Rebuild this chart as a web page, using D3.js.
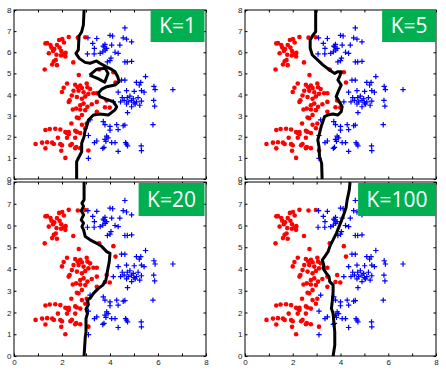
<!DOCTYPE html>
<html>
<head>
<meta charset="utf-8">
<script src="https://cdn.jsdelivr.net/npm/d3@7"></script>
<style>
  body { margin: 0; background: #fff; }
  svg { display: block; }
  .tick text { font-family: "Liberation Sans", Arial, sans-serif; font-size: 8px; fill: #222; }
  .tick line { stroke: #000; }
</style>
</head>
<body>
<div id="chart"></div>
<script>
// class 1 (red dots)
const redPoints = [
  [1.31, 6.42], [1.38, 6.43], [1.52, 6.34], [1.56, 6.22], [1.63, 6.06], [1.68, 6.15],
  [1.79, 6.34], [1.88, 6.58], [2.01, 6.62], [2.08, 6.46], [2.28, 6.72], [1.90, 6.22],
  [1.97, 6.06], [2.07, 5.91], [2.15, 5.97], [2.14, 5.80], [1.96, 5.85], [1.77, 5.88],
  [1.66, 5.57], [1.74, 5.63], [1.59, 5.42], [1.79, 5.39], [1.28, 5.18], [2.47, 5.52],
  [2.66, 6.69], [2.97, 6.71], [1.45, 5.95], [2.70, 4.92], [3.55, 5.18], [4.14, 5.05],
  [4.23, 4.57],
  [2.21, 4.52], [2.07, 4.32], [2.00, 4.12], [2.55, 4.46], [2.65, 4.34], [2.76, 4.42],
  [2.69, 4.18], [2.83, 4.31], [3.03, 4.52], [3.06, 4.34], [3.17, 4.26], [2.90, 4.11],
  [2.48, 4.18], [2.41, 3.95], [2.32, 3.72], [2.28, 3.65], [2.62, 3.88], [2.83, 3.80],
  [2.97, 3.91], [3.10, 4.03], [3.31, 4.06], [3.45, 4.06], [2.90, 3.57], [2.76, 3.49],
  [2.59, 3.34], [2.45, 3.29], [2.76, 3.29], [2.97, 3.26], [3.06, 3.42], [3.24, 3.54],
  [3.45, 3.65], [3.86, 3.72], [3.79, 3.40], [3.45, 3.18], [2.83, 3.03], [2.69, 2.88],
  [2.62, 2.91], [3.99, 3.38],
  [2.39, 2.63], [1.93, 2.34], [1.31, 2.32], [1.49, 2.37], [1.72, 2.38], [2.14, 2.22],
  [2.21, 2.18], [2.28, 2.22], [2.28, 2.12], [2.55, 2.28], [2.62, 2.23], [2.83, 2.57],
  [3.03, 2.63], [2.97, 2.40], [2.76, 2.18], [1.83, 1.95], [2.21, 1.95], [2.55, 1.95],
  [1.38, 1.74], [1.59, 1.72], [1.66, 1.66], [1.93, 1.65], [2.00, 1.60], [2.35, 1.60],
  [2.41, 1.66], [0.90, 1.66], [1.17, 1.72], [2.59, 1.51], [2.76, 1.46], [2.55, 1.46],
  [1.31, 1.45], [1.97, 1.34], [2.14, 1.00], [3.10, 1.35]
];

// class 2 (blue crosses)
const bluePoints = [
  [3.08, 6.68], [3.45, 6.65], [3.28, 6.42], [3.35, 6.18], [3.06, 5.92], [3.34, 5.92],
  [3.59, 5.95], [3.72, 6.29], [3.79, 6.37], [3.86, 6.18], [4.00, 6.80], [4.11, 6.77],
  [4.07, 6.34], [4.21, 6.00], [4.34, 5.95], [3.89, 5.54], [4.00, 5.60], [4.04, 5.72],
  [4.55, 6.68], [4.69, 6.62], [4.62, 7.15], [4.90, 6.49], [4.41, 6.34], [4.62, 5.54],
  [4.72, 5.54], [4.90, 5.57], [3.75, 6.25], [3.80, 6.10], [3.70, 6.02],
  [4.48, 4.68], [4.62, 4.68], [5.48, 4.85], [5.10, 4.57], [5.28, 4.57], [5.22, 4.45],
  [5.01, 4.15], [5.31, 4.18], [5.42, 4.11], [4.34, 4.11], [4.69, 4.18], [5.83, 4.38],
  [5.88, 4.23], [6.62, 4.23], [4.51, 3.85], [4.72, 3.85], [4.83, 3.92], [4.90, 3.72],
  [4.97, 3.80], [5.10, 3.65], [5.17, 3.85], [5.31, 3.69], [4.76, 3.65], [4.59, 3.72],
  [4.90, 3.42], [4.69, 3.55], [4.44, 3.65], [4.14, 3.65], [4.73, 3.14], [5.24, 3.49],
  [5.82, 3.72], [5.86, 3.45], [5.79, 2.57], [5.00, 3.60], [5.05, 3.55],
  [3.17, 2.80], [3.72, 2.72], [3.79, 2.57], [4.00, 2.49], [4.00, 2.31], [4.28, 2.57],
  [4.34, 2.34], [4.55, 2.52], [4.62, 2.55], [3.10, 2.06], [3.86, 2.03], [3.92, 1.95],
  [3.79, 1.88], [3.83, 1.78], [4.07, 1.72], [4.21, 1.72], [3.35, 1.72], [3.45, 1.80],
  [3.70, 1.45], [3.75, 1.50], [4.65, 1.72], [4.73, 1.57], [4.69, 1.65], [5.30, 1.57],
  [5.31, 1.34], [4.34, 1.31], [3.10, 0.98]
];

// decision boundaries
const boundaryK1 = [
  [2.92, 8.0], [2.89, 7.29], [2.82, 6.97], [2.71, 6.77], [2.68, 6.11], [2.58, 5.95],
  [2.72, 5.71], [2.96, 5.52], [3.17, 5.48], [3.44, 5.59], [3.58, 5.48], [3.83, 5.32],
  [4.07, 5.19], [4.21, 5.08], [4.32, 4.84], [4.38, 4.61], [4.21, 4.45], [3.86, 4.37],
  [3.65, 4.24], [3.51, 4.06], [3.58, 3.90], [3.86, 3.77], [4.14, 3.66], [4.28, 3.42],
  [4.21, 3.27], [3.93, 3.03], [3.58, 3.08], [3.31, 3.03], [3.10, 2.79], [3.03, 2.51],
  [2.96, 2.29], [2.92, 2.00], [2.82, 1.69], [2.82, 1.29], [2.68, 0.98], [2.61, 0.82],
  [2.61, 0.0]
];
const loopK1 = [
  [3.15, 4.92], [3.45, 5.20], [3.80, 5.24], [3.92, 5.00], [3.78, 4.58], [3.50, 4.75],
  [3.15, 4.92]
];
const boundaryK5 = [
  [2.96, 8.0], [2.96, 6.97], [2.85, 6.82], [2.73, 6.58], [2.73, 6.19], [2.82, 5.87],
  [3.05, 5.63], [3.26, 5.40], [3.54, 5.16], [3.75, 5.00], [3.89, 5.08], [4.03, 5.08],
  [3.96, 4.84], [3.89, 4.69], [4.03, 4.45], [3.93, 4.21], [3.82, 3.90], [3.99, 3.58],
  [4.07, 3.42], [4.03, 3.19], [3.89, 3.03], [3.68, 3.08], [3.47, 3.03], [3.33, 2.95],
  [3.26, 2.71], [3.19, 2.48], [3.12, 2.16], [3.05, 1.85], [3.10, 1.53], [3.12, 1.06],
  [3.21, 0.74], [3.23, 0.0]
];
const boundaryK20 = [
  [2.92, 8.0], [2.92, 7.18], [2.83, 7.03], [2.90, 6.88], [2.80, 6.68], [2.90, 6.49],
  [2.80, 6.26], [2.90, 6.11], [2.83, 5.95], [2.90, 5.80], [2.97, 5.49], [3.17, 5.34],
  [3.45, 5.18], [3.66, 5.03], [3.86, 4.80], [4.00, 4.72], [3.97, 4.34], [3.89, 3.88],
  [3.83, 3.49], [3.70, 3.26], [3.52, 3.11], [3.31, 2.88], [3.17, 2.65], [3.06, 2.57],
  [3.10, 2.37], [3.00, 2.15], [3.06, 1.95], [3.00, 1.72], [3.00, 1.11], [2.97, 0.88],
  [2.92, 0.0]
];
const boundaryK100 = [
  [4.40, 8.0], [4.37, 7.65], [4.28, 7.18], [4.23, 6.80], [4.11, 6.42], [3.97, 6.03],
  [3.83, 5.65], [3.69, 5.34], [3.58, 5.11], [3.48, 4.80], [3.34, 4.57], [3.24, 4.42],
  [3.30, 4.18], [3.27, 4.03], [3.41, 3.80], [3.52, 3.65], [3.55, 3.42], [3.69, 3.26],
  [3.69, 2.95], [3.66, 2.57], [3.62, 2.18], [3.69, 1.95], [3.72, 1.57], [3.76, 1.11],
  [3.76, 0.49], [3.69, 0.0]
];

const kLabels = ["K=1", "K=5", "K=20", "K=100"];
const axisTicks = [0, 1, 2, 3, 4, 5, 6, 7, 8];
const xTickLabels = [0, 2, 4, 6, 8];

const width = 446;
const height = 370;

const panels = [
  { label: kLabels[0], lines: [boundaryK1, loopK1], x0: 14, x1: 206, y0: 10, y1: 179, bottomRow: false },
  { label: kLabels[1], lines: [boundaryK5], x0: 245, x1: 436, y0: 10, y1: 179, bottomRow: false },
  { label: kLabels[2], lines: [boundaryK20], x0: 14, x1: 206, y0: 182, y1: 356, bottomRow: true },
  { label: kLabels[3], lines: [boundaryK100], x0: 245, x1: 436, y0: 182, y1: 356, bottomRow: true }
];

const svg = d3.select("#chart")
  .append("svg")
  .attr("width", width)
  .attr("height", height);

panels.forEach((p, i) => {
  const x = d3.scaleLinear().domain([0, 8]).range([p.x0, p.x1]);
  const y = d3.scaleLinear().domain([0, 8]).range([p.y1, p.y0]);

  const g = svg.append("g");

  // lower panels sit on top of the upper panels' bottom labels
  if (p.bottomRow) {
    g.append("rect")
      .attr("x", p.x0 - 14).attr("y", p.y0 - 0.5)
      .attr("width", 14).attr("height", 4)
      .attr("fill", "#fff");
  }

  // axes with inward ticks
  g.append("g")
    .attr("transform", `translate(${p.x0},0)`)
    .call(d3.axisLeft(y).tickValues(axisTicks).tickSize(-2.5).tickPadding(2.5).tickFormat(d3.format("d")))
    .call(a => a.select(".domain").remove());
  g.append("g")
    .attr("transform", `translate(${p.x1},0)`)
    .call(d3.axisRight(y).tickValues(axisTicks).tickSize(-2.5).tickFormat(""))
    .call(a => a.select(".domain").remove());
  g.append("g")
    .attr("transform", `translate(0,${p.y1})`)
    .call(d3.axisBottom(x).tickValues(axisTicks).tickSize(-2.5).tickPadding(3.5)
      .tickFormat(d => (p.bottomRow && xTickLabels.includes(d)) ? d : ""))
    .call(a => a.select(".domain").remove());
  g.append("g")
    .attr("transform", `translate(0,${p.y0})`)
    .call(d3.axisTop(x).tickValues(axisTicks).tickSize(-2.5).tickFormat(""))
    .call(a => a.select(".domain").remove());

  // red dots
  g.append("g")
    .selectAll("circle")
    .data(redPoints)
    .join("circle")
    .attr("cx", d => x(d[0]))
    .attr("cy", d => y(d[1]))
    .attr("r", 2.3)
    .attr("fill", "#ff0000");

  // blue crosses
  const s = 2.7;
  g.append("g")
    .selectAll("path")
    .data(bluePoints)
    .join("path")
    .attr("d", d => {
      const cx = x(d[0]), cy = y(d[1]);
      return `M${cx - s},${cy}H${cx + s}M${cx},${cy - s}V${cy + s}`;
    })
    .attr("stroke", "#0000ff")
    .attr("stroke-width", 1.2)
    .attr("fill", "none");

  // boundary
  const line = d3.line().x(d => x(d[0])).y(d => y(d[1]));
  g.append("g")
    .selectAll("path")
    .data(p.lines)
    .join("path")
    .attr("d", line)
    .attr("fill", "none")
    .attr("stroke", "#000")
    .attr("stroke-width", 3)
    .attr("stroke-linejoin", "round");

  // frame
  g.append("rect")
    .attr("x", p.x0).attr("y", p.y0)
    .attr("width", p.x1 - p.x0).attr("height", p.y1 - p.y0)
    .attr("fill", "none")
    .attr("stroke", "#000")
    .attr("stroke-width", 1);

  // K label
  const box = g.append("rect").attr("fill", "#00b050");
  const txt = g.append("text")
    .text(p.label)
    .attr("font-family", "'Open Sans', 'Noto Sans', sans-serif")
    .attr("font-size", 21)
    .attr("fill", "#fff")
    .attr("text-anchor", "middle");
  const tw = txt.node().getComputedTextLength();
  const bw = tw + 17;
  const bh = 33;
  const right = (i % 2 === 0) ? p.x1 - 1.5 : p.x1;
  const top = p.bottomRow ? p.y0 + 1 : p.y0 - 1;
  box.attr("x", right - bw).attr("y", top).attr("width", bw).attr("height", bh);
  txt.attr("x", right - bw / 2).attr("y", top + bh / 2 + 7.5);
});
</script>
</body>
</html>
